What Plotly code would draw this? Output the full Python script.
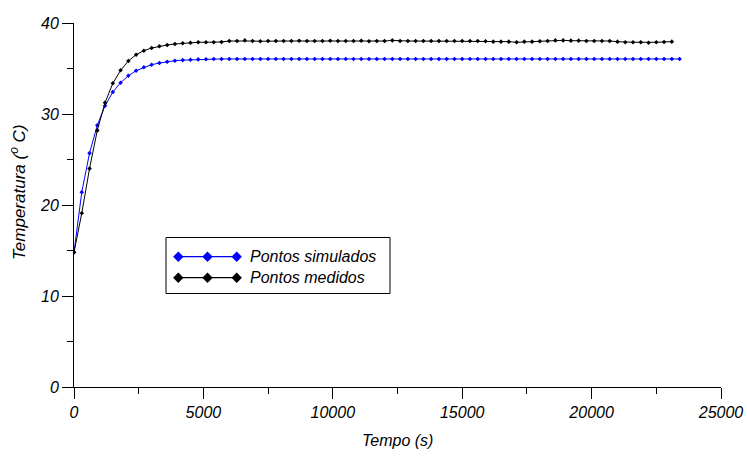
import plotly.graph_objects as go

# Sampling interval of both series (s)
step = 300

# Simulated temperature (°C), one value every 300 s from t = 0
temp_simulada = [
    14.8, 21.4, 25.7, 28.76, 30.9, 32.42, 33.44, 34.2, 34.76, 35.13,
    35.42, 35.6, 35.75, 35.86, 35.92, 35.96, 36.0, 36.02, 36.04, 36.05,
    36.05, 36.05, 36.05, 36.05, 36.05, 36.05, 36.05, 36.05, 36.05, 36.05,
    36.05, 36.05, 36.05, 36.05, 36.05, 36.05, 36.05, 36.05, 36.05, 36.05,
    36.05, 36.05, 36.05, 36.05, 36.05, 36.05, 36.05, 36.05, 36.05, 36.05,
    36.05, 36.05, 36.05, 36.05, 36.05, 36.05, 36.05, 36.05, 36.05, 36.05,
    36.05, 36.05, 36.05, 36.05, 36.05, 36.05, 36.05, 36.05, 36.05, 36.05,
    36.05, 36.05, 36.05, 36.05, 36.05, 36.05, 36.05, 36.05, 36.05,
]

# Measured temperature (°C), one value every 300 s from t = 0
temp_medida = [
    14.8, 19.1, 24.0, 28.2, 31.25, 33.37, 34.8, 35.82, 36.52, 36.96,
    37.25, 37.44, 37.58, 37.69, 37.77, 37.84, 37.88, 37.88, 37.88, 37.92,
    38.02, 38.02, 38.09, 38.02, 37.99, 38.02, 38.02, 38.02, 38.02, 38.05,
    38.02, 38.02, 38.02, 38.05, 38.02, 38.02, 38.02, 38.04, 38.0, 38.02,
    38.02, 38.09, 38.02, 38.02, 38.02, 38.02, 38.02, 38.02, 38.02, 38.02,
    38.02, 38.02, 38.02, 37.99, 37.95, 37.95, 37.95, 37.88, 37.95, 37.95,
    37.99, 38.02, 38.09, 38.09, 38.06, 38.06, 38.02, 38.02, 38.02, 38.02,
    37.95, 37.88, 37.88, 37.88, 37.84, 37.88, 37.92, 37.95,
]

tempo_sim = [i * step for i in range(len(temp_simulada))]
tempo_med = [i * step for i in range(len(temp_medida))]

x_ticks = [0, 5000, 10000, 15000, 20000, 25000]
x_tick_labels = ["0", "5000", "10000", "15000", "20000", "25000"]
y_ticks = [0, 10, 20, 30, 40]
y_tick_labels = ["0", "10", "20", "30", "40"]

serie_nomes = ["Pontos simulados", "Pontos medidos"]
serie_cores = ["#0000ff", "#000000"]

FONT = "Liberation Sans, Arial, sans-serif"

fig = go.Figure()
for nome, xs, ys, cor in zip(serie_nomes, [tempo_sim, tempo_med],
                             [temp_simulada, temp_medida], serie_cores):
    fig.add_trace(go.Scatter(
        x=xs, y=ys, mode="lines+markers", name=nome,
        line=dict(color=cor, width=1),
        marker=dict(symbol="diamond", size=3.5, color=cor),
        showlegend=False,
    ))

axis_common = dict(
    showgrid=False, zeroline=False, showline=True, linecolor="black",
    linewidth=1, ticks="outside", ticklen=11, tickcolor="black",
    tickwidth=1, mirror=False, ticklabeloverflow="allow", automargin=False,
    tickfont=dict(family=FONT, size=16, color="black", style="italic"),
)

fig.update_xaxes(range=[0, 25000], tickvals=x_ticks, ticktext=x_tick_labels,
                 minor=dict(dtick=2500, ticks="outside", ticklen=6,
                            tickcolor="black"),
                 **axis_common)
fig.update_yaxes(range=[0, 40], tickvals=y_ticks, ticktext=y_tick_labels,
                 minor=dict(dtick=5, ticks="outside", ticklen=6,
                            tickcolor="black"),
                 **axis_common)

# Plot-area geometry in pixels, used to place the legend box
L, R, T, B = 74, 26, 23, 72
W, H = 747, 459
pw, ph = W - L - R, H - T - B


def px(x):
    return (x - L) / pw


def py(y):
    return (H - B - y) / ph


shapes = [dict(type="rect", xref="paper", yref="paper",
               x0=px(166), x1=px(390), y0=py(293.5), y1=py(237.5),
               line=dict(color="black", width=1), fillcolor="white",
               layer="above")]
annotations = []
rows_y = [256.7, 277.7]
diam_x = [178.3, 207.5, 236.7]
for nome, cor, ry in zip(serie_nomes, serie_cores, rows_y):
    shapes.append(dict(type="line", xref="paper", yref="paper",
                       x0=px(diam_x[0]), x1=px(diam_x[-1]),
                       y0=py(ry), y1=py(ry),
                       line=dict(color=cor, width=1.2), layer="above"))
    for dx in diam_x:
        s = 5.2
        path = (f"M {px(dx - s)},{py(ry)} L {px(dx)},{py(ry - s)} "
                f"L {px(dx + s)},{py(ry)} L {px(dx)},{py(ry + s)} Z")
        shapes.append(dict(type="path", xref="paper", yref="paper",
                           path=path, fillcolor=cor,
                           line=dict(color=cor, width=0), layer="above"))
    annotations.append(dict(
        text=nome, xref="paper", yref="paper", x=px(248), y=py(ry),
        xanchor="left", yanchor="middle", showarrow=False,
        font=dict(family=FONT, size=16, color="black", style="italic"),
    ))

# Axis titles
annotations.append(dict(
    text="Tempo (s)", xref="paper", yref="paper", x=0.5, y=py(440),
    xanchor="center", yanchor="middle", showarrow=False,
    font=dict(family=FONT, size=16, color="black", style="italic"),
))
annotations.append(dict(
    text="Temperatura (<sup>o</sup> C)", xref="paper", yref="paper",
    x=px(18), y=py(193), textangle=-90,
    xanchor="center", yanchor="middle", showarrow=False,
    font=dict(family=FONT, size=17, color="black", style="italic"),
))

fig.update_layout(
    width=W, height=H,
    margin=dict(l=L, r=R, t=T, b=B, autoexpand=False),
    paper_bgcolor="white", plot_bgcolor="white",
    shapes=shapes, annotations=annotations,
    showlegend=False,
)

fig.write_html("out.html")
